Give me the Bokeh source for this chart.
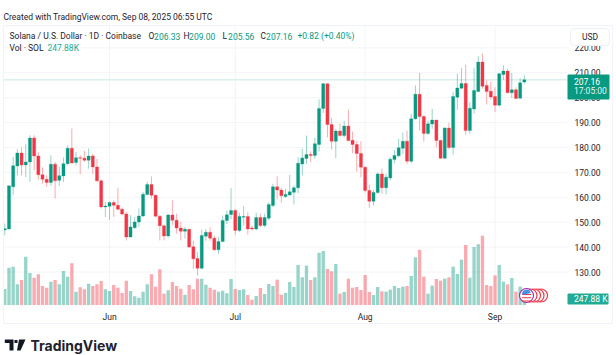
from bokeh.plotting import figure
from bokeh.embed import file_html
from bokeh.resources import INLINE
from bokeh.models import (ColumnDataSource, FixedTicker, Range1d, Label, BoxAnnotation,
                          PolyAnnotation, NumeralTickFormatter)

opens = [146.9,147.3,164.2,172.6,177.8,173,174.2,183.8,176.6,169.1,167.2,165.9,173.3,166.8,168.6,173.5,179.7,174,175.9,175.7,
 174.9,176.6,172.2,166.6,156.1,156.4,157.9,156.8,155.2,153.3,144.1,147.8,150.1,152.5,161.1,165.1,160.8,152.4,148.6,144.5,
 152.9,150.8,147.7,146.4,147.2,140.1,135.4,131.5,144.4,146,143.6,138.9,142.2,150.7,153.1,154.7,146.7,152,152.3,147.7,
 147.3,151.9,148.7,151.6,156.7,164.2,162.9,160.3,160.9,162,163.8,173.4,175.6,177.2,176.8,181.2,195.7,205.6,189.2,182.5,
 186.6,184.8,188.6,182.9,181.2,177.6,172.1,162.7,158.4,161.9,169.4,163.8,167.8,175.2,176.7,179.7,182.5,174.5,191.5,201.4,
 192.4,185.6,189.4,191,182.8,175.7,187.8,180,200.2,203.8,205.7,186.8,195.5,202.5,214.3,204.9,202.6,200.5,197,209.3,
 210.7,202,203.2,199.8,206.33]
highs = [149.4,164.8,176.2,179.3,180,181.3,184.9,184.9,178.2,172,168.8,176.9,174.2,172.2,176,180.9,187.6,178.2,176.9,178.6,
 179.6,177.5,175.4,167.1,158.1,158.4,158.8,163.8,155.9,154.1,152.8,152.1,155.5,162.2,166.2,168.4,161.2,152.8,149,153.3,
 158.8,153.4,150.1,148.1,147.3,142.6,138,147,147.3,148,144.7,144,152.7,154.7,163.8,155.4,153.8,156.4,154,148.7,
 153.8,153.4,153.4,158,165.4,168.4,163.8,163.4,169,164.7,176.1,179.5,184.8,178.5,183.9,199.3,206,205.8,191.9,187.5,
 189.5,190.6,195.2,186.4,182.5,182.5,172.4,165.1,163,170,171.4,169.4,176.1,179,183.5,186,186.8,193.5,204.9,210,
 192.9,190.8,195.5,191.2,183.1,188.2,189.9,202.2,209.6,211.9,213.3,198.2,212,216.7,217.7,206.9,206.5,204.2,210,213,
 211.6,209.9,204.2,207.8,209.0]
lows = [144.8,147,161,168.8,168.8,168.2,166.2,170.9,167.1,165.5,164.2,164.6,159.5,164.6,166.2,172.9,173.5,172.9,169.3,174.2,
 171.5,169.3,166.2,155.5,152.1,151,152.1,154.8,152.8,142.7,143.8,147.4,148,152.1,160.8,159.5,152.1,142.7,142.7,143.8,
 148.8,145.4,142.7,143.4,139.8,131.3,128.6,131,142.6,142.6,138.6,137.3,142,149.3,151.3,145,146,148.7,145,146.7,
 146.7,148,148,150.7,156,159.4,157.8,159.8,160.7,157.1,161.6,168.8,173.4,174.1,175.4,178.4,193.8,184.1,179.2,175.7,
 184.4,184.1,182.5,177.8,170.3,168.1,162,155.8,156.7,161.4,161.4,161.1,166.7,173.7,176.1,177.4,173.4,173.8,191.2,186.8,
 182.5,185.1,187.5,180.1,175.4,175.4,179.2,177.2,195.1,203.6,185.1,185.5,193.6,202.2,203.6,197.3,199.3,194.2,196.6,207.2,
 201.8,199.8,199.5,199.5,205.56]
closes = [147.4,164.6,172.7,177.8,173,174.2,183.8,176.6,169.1,167.2,165.9,173.3,166.6,168.7,173.5,179.7,173.8,175.9,175.7,174.9,
 176.6,172.2,166.6,156.1,156.5,157.9,156.8,155.2,153.3,144.1,148.1,150.1,152.5,161.2,165.1,160.8,152.4,148.6,144.5,152.9,
 150.8,147.7,146.4,147.2,140,135.3,131.5,144.7,146,143.6,138.9,142.2,150.7,153,154.7,146.7,152.3,152.3,147.3,147.3,
 151.9,148.7,151.9,157.1,164.2,162.9,160.6,161.1,162.2,163.8,173.7,175.8,177.2,176.8,181.5,195.7,205.6,189.2,182.5,186.6,
 184.8,188.6,182.8,181.2,177.6,172.1,162.7,158.4,161.9,169.4,163.8,168.1,175.3,176.8,179.9,182.5,174.5,191.5,201.4,192.4,
 185.6,189.5,191,182.8,175.7,187.8,180,200.5,203.9,205.7,186.8,195.8,202.9,214.3,204.6,202.5,200.3,197,209.6,210.7,
 202,203.2,199.7,206,207.16]
volumes = [610,1422,1460,787,952,1841,1219,1041,1168,724,660,889,952,787,1295,1079,1587,508,673,597,813,724,787,914,597,533,762,660,457,927,
 533,330,279,508,787,1168,698,1359,432,559,876,724,622,394,762,597,1003,1003,775,660,584,508,546,445,991,610,572,597,381,203,
 343,648,419,800,724,965,394,457,876,686,1524,1054,1499,952,1054,1994,2057,1372,1283,1562,432,495,1003,660,686,572,1143,495,381,686,
 521,508,584,724,648,699,724,1105,1816,2108,1080,432,737,991,927,1003,1054,1461,1181,1727,2286,1041,2210,2311,2642,762,724,1130,1524,889,
 787,1029,508,699,247.88]
price_ticks = [130,140,150,160,170,180,190,200,210,220]
month_ticks = [25,55,86,117]
month_labels = ["Jun","Jul","Aug","Sep"]
last_price = 207.16

UP, DOWN = "#089981", "#F23645"
FONT = "Roboto"
INK = "#1e222d"
n = len(opens)
xs = list(range(n))
colors = [UP if c >= o else DOWN for o, c in zip(opens, closes)]
src = ColumnDataSource(dict(x=xs, o=opens, h=highs, l=lows, c=closes, v=volumes, color=colors,
                            top=[max(a, b) for a, b in zip(opens, closes)],
                            bottom=[min(a, b) for a, b in zip(opens, closes)]))

W, H = 616, 355
FL, FR, FT, FB = 3, 567, 25, 305
PX, X0, PPU, VPP = 4.19, 4.3, 2.49, 38.1
def xd(px): return (px - X0) / PX
def yd(py): return 210 - (py - 72.3) / PPU

p = figure(width=W, height=H, output_backend="svg", toolbar_location=None,
           x_range=Range1d(xd(0), xd(W)), y_range=Range1d(yd(H), yd(0)), y_axis_location="right",
           min_border_left=0, min_border_right=0, min_border_top=0, min_border_bottom=0,
           margin=(0, 0, 0, 0), background_fill_color="white", border_fill_color="white")
p.outline_line_color = None
p.extra_y_ranges = {"vol": Range1d((304.5 - H) * VPP, 304.5 * VPP)}
p.grid.visible = False

p.xaxis.fixed_location = yd(FB)
p.xaxis.ticker = FixedTicker(ticks=month_ticks)
p.xaxis.major_label_overrides = dict(zip(month_ticks, month_labels))
p.xaxis.axis_line_color = None
p.xaxis.major_tick_line_color = None
p.xaxis.minor_tick_line_color = None
p.xaxis.major_tick_out = 0
p.xaxis.major_tick_in = 0
p.xaxis.major_label_text_font = FONT
p.xaxis.major_label_text_font_size = "8.5px"
p.xaxis.major_label_text_color = INK
p.xaxis.major_label_standoff = 6

p.yaxis.fixed_location = xd(FR)
p.yaxis.ticker = FixedTicker(ticks=price_ticks)
p.yaxis.formatter = NumeralTickFormatter(format="0.00")
p.yaxis.axis_line_color = None
p.yaxis.major_tick_line_color = None
p.yaxis.minor_tick_line_color = None
p.yaxis.major_tick_out = 0
p.yaxis.major_tick_in = 0
p.yaxis.major_label_text_font = FONT
p.yaxis.major_label_text_font_size = "8.5px"
p.yaxis.major_label_text_color = INK
p.yaxis.major_label_standoff = 7

GRID = "#f3f4f7"
p.segment(x0=[xd(FL)] * len(price_ticks), x1=[xd(FR)] * len(price_ticks), y0=price_ticks, y1=price_ticks,
          line_color=GRID, line_width=1)
p.segment(x0=month_ticks, x1=month_ticks, y0=[yd(FB)] * 4, y1=[yd(FT)] * 4, line_color=GRID, line_width=1)

# volume
p.vbar(x="x", width=0.8, top="v", bottom=0, source=src, y_range_name="vol",
       fill_color="color", fill_alpha=0.42, line_color=None)
# last price line
p.segment(x0=[xd(FL)], x1=[xd(FR)], y0=[last_price], y1=[last_price], line_color="#c6e8e2", line_width=1)
# candles
p.segment(x0="x", x1="x", y0="l", y1="h", source=src, line_color="color", line_alpha=0.42, line_width=1)
p.vbar(x="x", width=0.74, top="top", bottom="bottom", source=src, fill_color="color", line_color="color", line_width=0.3)

# event badges
EV = yd(295)
for px_ in [540.5, 537, 533.5, 530]:
    p.scatter(x=[xd(px_)], y=[EV], size=13, fill_color="white", line_color=DOWN, line_width=1.2)
p.scatter(x=[xd(526)], y=[EV], size=14, fill_color="white", line_color="#9c27b0", line_width=1.1)
stripe = [EV - 2.2, EV - 0.9, EV + 0.4]
p.segment(x0=[xd(521.5)] * 3, x1=[xd(530.5)] * 3, y0=stripe, y1=stripe, line_color=DOWN, line_width=1)
p.wedge(x=[xd(526)], y=[EV + 0.6], radius=1.05, start_angle=0.25, end_angle=3.3, fill_color="#4a90e2", line_color=None)

def text(x, y, t, size="8.5px", color=INK, align="left", weight="normal", font=FONT):
    p.add_layout(Label(x=x, y=y, x_units="canvas", y_units="canvas", text=t, text_font=font,
                       text_font_size=size, text_color=color, text_align=align, text_baseline="middle",
                       text_font_style=weight))

def box(l, r, t, b, fill=None, line=None, radius=0, lw=1):
    p.add_layout(BoxAnnotation(left=l, right=r, top=t, bottom=b, left_units="canvas", right_units="canvas",
                               top_units="canvas", bottom_units="canvas", fill_color=fill or "white",
                               fill_alpha=1 if fill else 0, line_color=line or "white", line_alpha=1 if line else 0,
                               line_width=lw, border_radius=radius))

def poly(xs_, ys_, fill="#131722"):
    p.add_layout(PolyAnnotation(xs=xs_, ys=ys_, xs_units="canvas", ys_units="canvas",
                                fill_color=fill, fill_alpha=1, line_color=None))

box(3, 612, 25, 323, line="#f0f3fa")
box(567, 609, 74, 99, fill=UP, radius=1)
box(567, 608, 293, 304, fill="#22ab94", radius=1)
box(570, 609, 28, 45, fill="white", line="#eceff4", radius=4)
text(589.5, 36.5, "USD", align="center")
text(573.5, 80.5, "207.16", color="white")
text(573.5, 90.5, "17:05:00", color="#e6f6f3")
text(573.5, 298.7, "247.88 K", color="white")

text(3, 16, "Created with TradingView.com, Sep 08, 2025 06:55 UTC")
text(9, 35.5, "Solana / U.S. Dollar · 1D · Coinbase")
seg = [(148, "O", "206.33"), (183, "H", "209.00"), (222, "L", "205.56"), (260, "C", "207.16")]
for x, a, b in seg:
    text(x, 35.5, a)
    text(x + 5.6, 35.5, b, color=UP)
text(297, 35.5, "+0.82 (+0.40%)", color=UP)
text(9, 47.5, "Vol · SOL")
text(47, 47.5, "247.88K", color="#22ab94")

# TradingView logo
poly([4.3, 13, 13, 9, 9, 4.3], [339, 339, 350, 350, 342.5, 342.5])
poly([14, 17, 17, 14], [339.5, 339.5, 342.5, 342.5])
poly([18.5, 25, 20, 16.5], [339, 339, 350, 350])
text(30, 345, "TradingView", size="14px", weight="bold", font="Inter")

open("out.html", "w").write(file_html(p, INLINE))
